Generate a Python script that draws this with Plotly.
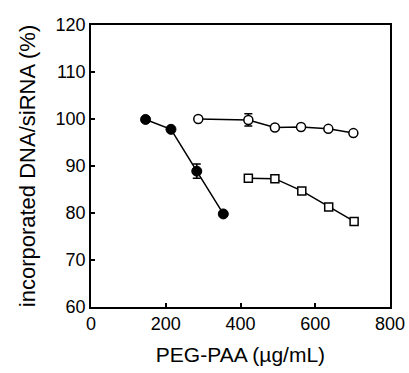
import plotly.graph_objects as go

# Data
x_filled = [146, 214, 283, 354]
y_filled = [99.9, 97.8, 88.9, 79.8]
err_filled = [0.3, 0.4, 1.5, 0.3]

x_open = [287, 421, 492, 562, 635, 702]
y_open = [100.0, 99.8, 98.2, 98.3, 97.9, 97.0]
err_open = [0.3, 1.3, 0.4, 0.3, 0.3, 0.3]

x_square = [421, 492, 564, 636, 704]
y_square = [87.4, 87.3, 84.7, 81.3, 78.2]

x_ticks = [0, 200, 400, 600, 800]
y_ticks = [60, 70, 80, 90, 100, 110, 120]

FONT = "Liberation Sans, Arial, sans-serif"

fig = go.Figure()
fig.add_trace(go.Scatter(
    x=x_filled, y=y_filled, mode="lines+markers",
    line=dict(color="black", width=1.5),
    marker=dict(symbol="circle", size=10, color="black", line=dict(color="black", width=1)),
    error_y=dict(type="data", array=err_filled, color="black", thickness=1.5, width=4),
    showlegend=False))
fig.add_trace(go.Scatter(
    x=x_open, y=y_open, mode="lines+markers",
    line=dict(color="black", width=1.5),
    marker=dict(symbol="circle", size=9, color="white", line=dict(color="black", width=1.5)),
    error_y=dict(type="data", array=err_open, color="black", thickness=1.5, width=4),
    showlegend=False))
fig.add_trace(go.Scatter(
    x=x_square, y=y_square, mode="lines+markers",
    line=dict(color="black", width=1.5),
    marker=dict(symbol="square", size=8, color="white", line=dict(color="black", width=1.5)),
    showlegend=False))

fig.update_layout(
    width=409, height=373,
    margin=dict(l=91, r=19, t=25, b=66),
    paper_bgcolor="white", plot_bgcolor="white",
    font=dict(family=FONT, color="black", size=18),
    xaxis=dict(
        range=[0, 800], tickvals=x_ticks, ticktext=[str(v) for v in x_ticks],
        showgrid=False, zeroline=False, showline=True, linecolor="black", linewidth=1.5,
        mirror=True, ticks="inside", ticklen=4, tickwidth=1.5, tickcolor="black",
        tickfont=dict(size=18), automargin=False,
        title=dict(text="PEG-PAA (µg/mL)", font=dict(size=21), standoff=14)),
    yaxis=dict(
        range=[60, 120], tickvals=y_ticks, ticktext=[str(v) for v in y_ticks],
        showgrid=False, zeroline=False, showline=True, linecolor="black", linewidth=1.5,
        mirror=True, ticks="inside", ticklen=4, tickwidth=1.5, tickcolor="black",
        tickfont=dict(size=18), automargin=False,
        title=dict(text="incorporated DNA/siRNA (%)", font=dict(size=22), standoff=14)),
)

fig.write_html("out.html")
